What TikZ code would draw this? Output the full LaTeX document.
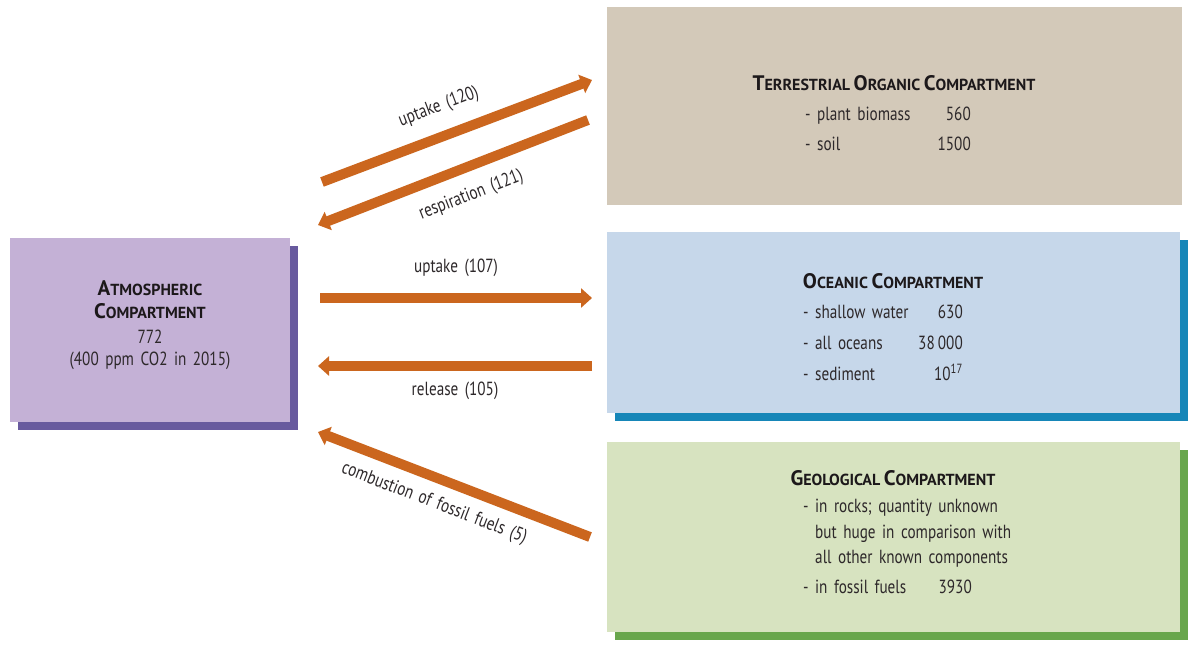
\documentclass[tikz,border=0pt]{standalone}
\usepackage{fontspec}
\setmainfont{PT Sans}[FakeStretch=0.8, WordSpace=1.6]
\newfontfamily\ttlfont{PT Sans}[WordSpace=1.4]
\usetikzlibrary{arrows.meta,calc,shadows}
\definecolor{atmfill}{RGB}{196,177,214}
\definecolor{atmshad}{RGB}{104,90,158}
\definecolor{terfill}{RGB}{211,201,185}
\definecolor{ocefill}{RGB}{198,215,234}
\definecolor{oceshad}{RGB}{22,134,184}
\definecolor{geofill}{RGB}{215,227,192}
\definecolor{geoshad}{RGB}{104,166,76}
\definecolor{flowc}{RGB}{203,102,30}
\definecolor{txtc}{RGB}{45,40,42}
\definecolor{ttlc}{RGB}{28,24,26}
\newcommand{\bodyfont}{\fontsize{19}{22}\selectfont}
\newcommand{\scp}[2]{{\fontsize{21}{24}\selectfont #1}{\fontsize{16}{24}\selectfont #2}}
\tikzset{
  box/.style={rectangle, inner sep=0pt, outer sep=0pt, draw=none},
  shad/.style={drop shadow={shadow xshift=8pt, shadow yshift=-8pt, fill=#1, opacity=1}},
  flow/.style={draw=flowc, line width=10pt, -{Triangle[length=11pt,width=19pt]}},
  lbl/.style={font=\bodyfont, text=txtc, inner sep=0pt},
  ttl/.style={font=\ttlfont\bfseries, text=ttlc, inner sep=0pt, anchor=base},
  item/.style={lbl, anchor=base west},
  num/.style={lbl, anchor=base east},
  mid/.style={lbl, anchor=base},
}
\begin{document}
\begin{tikzpicture}[x=1pt, y=-1pt]
\useasboundingbox (0,0) rectangle (1190,645);
\fill[white] (0,0) rectangle (1190,645);

% boxes
\node[box, shad=atmshad, fill=atmfill, minimum width=280pt, minimum height=184pt] (atm) at (150,330) {};
\node[box, fill=terfill, minimum width=575pt, minimum height=198pt] (ter) at (894.5,106) {};
\node[box, shad=oceshad, fill=ocefill, minimum width=573pt, minimum height=181pt] (oce) at (893.5,322.5) {};
\node[box, shad=geoshad, fill=geofill, minimum width=573pt, minimum height=190pt] (geo) at (893.5,537) {};

% atmospheric text
\node[ttl] (atmT1) at (150,295) {\scp{A}{TMOSPHERIC}};
\node[ttl] (atmT2) at (150,318) {\scp{C}{OMPARTMENT}};
\node[mid] (atmV) at (150,343) {772};
\node[mid] (atmP) at (150,365) {(400 ppm CO2 in 2015)};

% terrestrial text
\node[ttl] (terT) at (894,90) {\scp{T}{ERRESTRIAL} \scp{O}{RGANIC} \scp{C}{OMPARTMENT}};
\node[item] (terA) at (805,120) {- plant biomass};
\node[num] (terAv) at (971,120) {560};
\node[item] (terB) at (805,150) {- soil};
\node[num] (terBv) at (971,150) {1500};

% oceanic text
\node[ttl] (oceT) at (893,288) {\scp{O}{CEANIC} \scp{C}{OMPARTMENT}};
\node[item] (oceA) at (803,318) {- shallow water};
\node[num] (oceAv) at (963,318) {630};
\node[item] (oceB) at (803,349) {- all oceans};
\node[num] (oceBv) at (963,349) {38\,000};
\node[item] (oceC) at (803,380) {- sediment};
\node[num] (oceCv) at (963,380) {10\textsuperscript{17}};

% geological text
\node[ttl] (geoT) at (893,485) {\scp{G}{EOLOGICAL} \scp{C}{OMPARTMENT}};
\node[item] (geoA) at (803,512) {- in rocks; quantity unknown};
\node[item] (geoA2) at (815,538) {but huge in comparison with};
\node[item] (geoA3) at (815,563) {all other known components};
\node[item] (geoB) at (803,593) {- in fossil fuels};
\node[num] (geoBv) at (972,593) {3930};

% flows
\draw[flow] ($(atm.north east)+(32,-56)$) -- node[lbl, sloped, above=15pt, pos=0.47] (l1) {uptake (120)} ($(ter.west)+(-15,-26)$);
\draw[flow] ($(ter.west)+(-19,14)$) -- node[lbl, sloped, below=14pt, pos=0.47] (l2) {respiration (121)} ($(atm.north east)+(28,-13)$);
\draw[flow] ($(atm.east)+(30,-32)$) -- node[lbl, above=16pt, pos=0.5] (l3) {uptake (107)} ($(oce.west)+(-15,-24.5)$);
\draw[flow] ($(oce.west)+(-15,43.5)$) -- node[lbl, below=11pt, pos=0.5] (l4) {release (105)} ($(atm.east)+(28,36)$);
\draw[flow] ($(geo.west)+(-17,0)$) -- node[lbl, sloped, below=11pt, pos=0.54] (l5) {combustion of fossil fuels (5)} ($(atm.south east)+(28,10)$);
\end{tikzpicture}
\end{document}
